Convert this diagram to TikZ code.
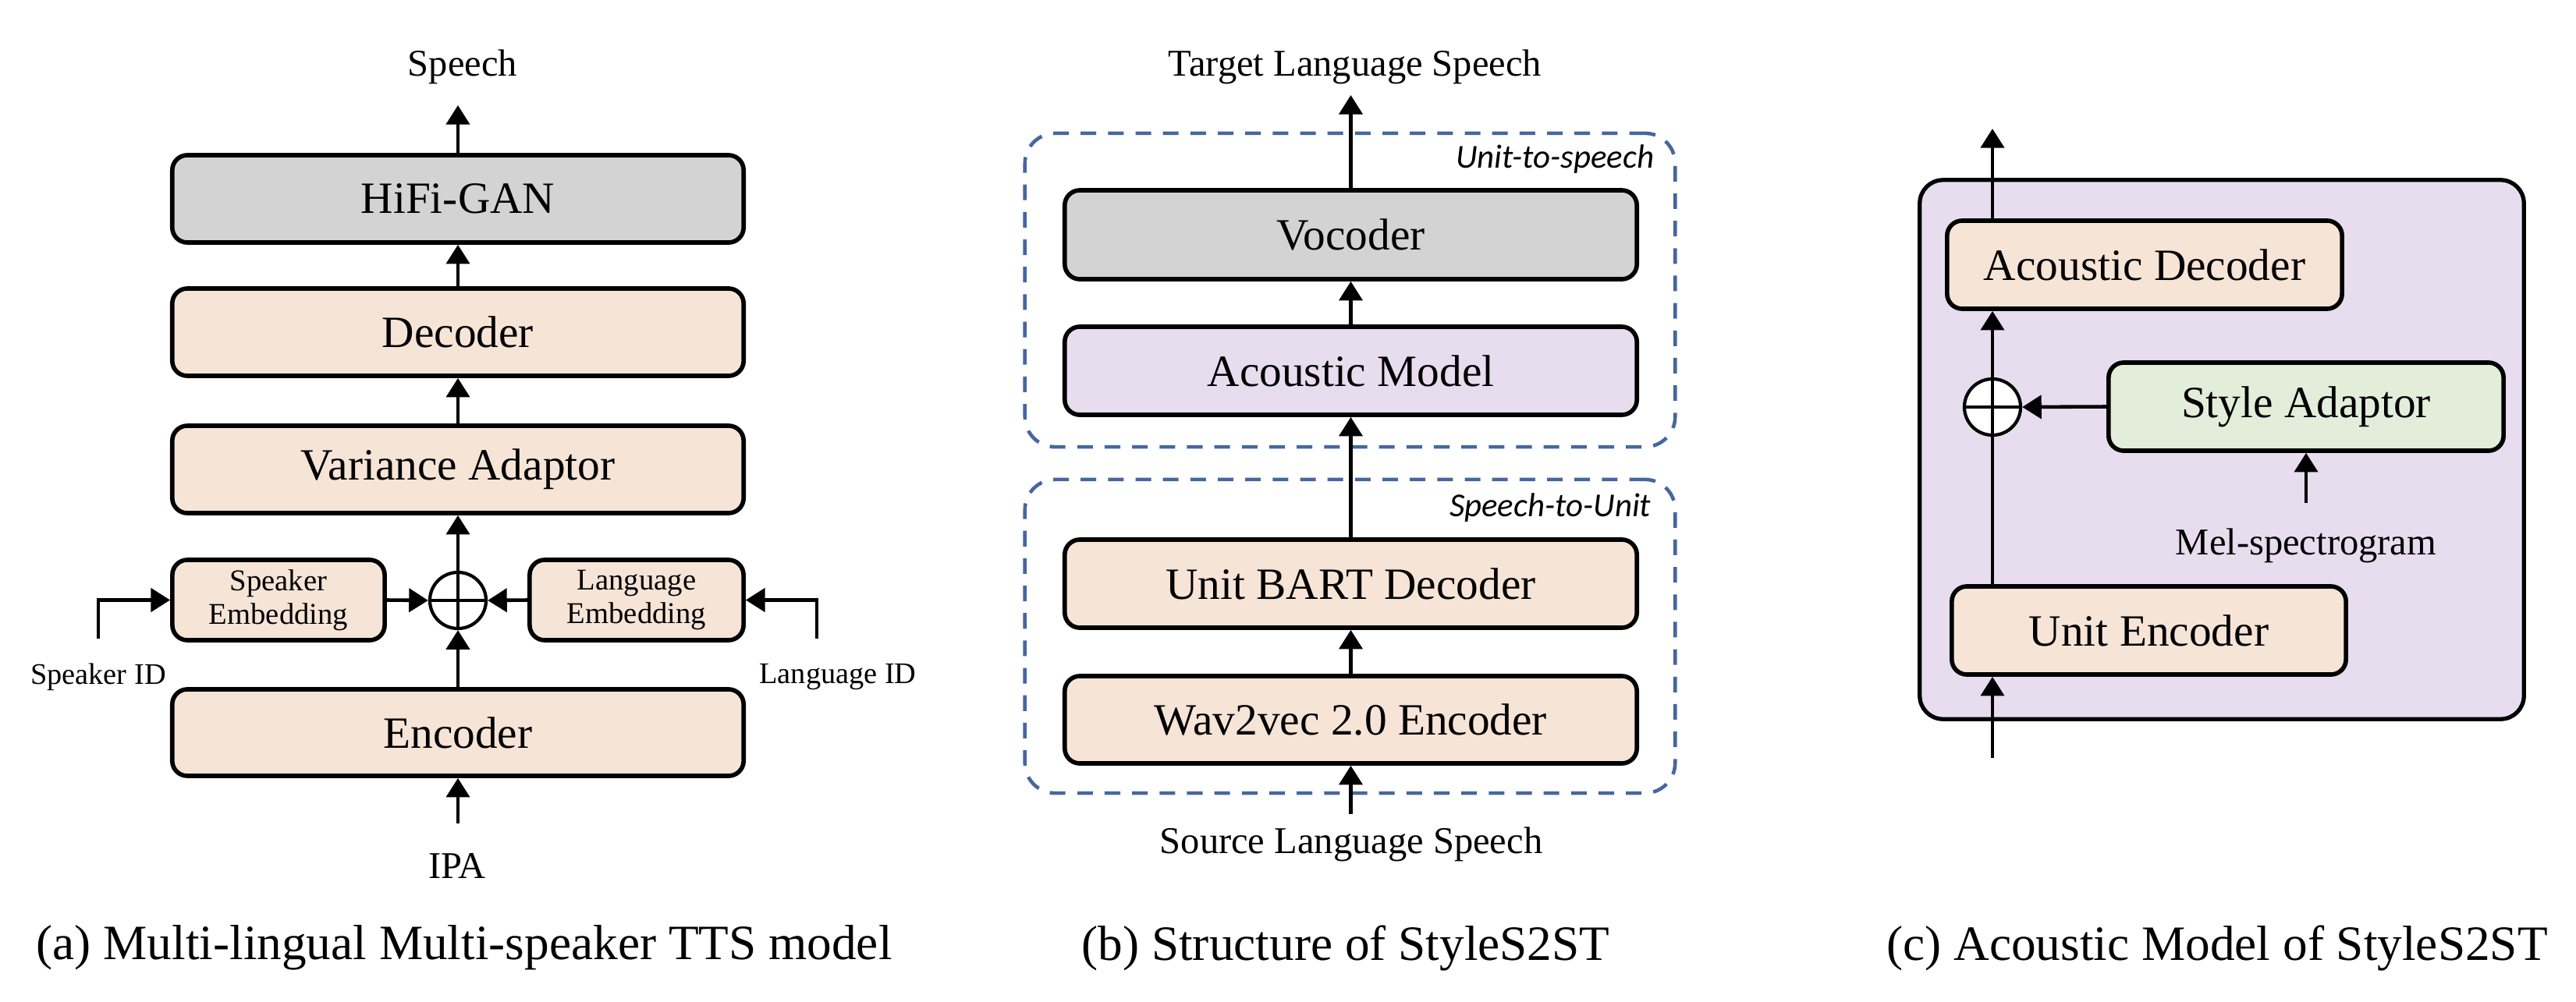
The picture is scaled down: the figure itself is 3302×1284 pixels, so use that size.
\documentclass[tikz,border=0pt]{standalone}
\usepackage{fontspec}
\setmainfont{Liberation Serif}
\newfontfamily\carlfont{Carlito}
\usetikzlibrary{arrows.meta}
\definecolor{peach}{RGB}{246,228,215}
\definecolor{lgray}{RGB}{211,211,211}
\definecolor{lpurple}{RGB}{232,221,238}
\definecolor{lgreen}{RGB}{226,238,218}
\definecolor{dblue}{RGB}{70,102,160}
\begin{document}
\begin{tikzpicture}[x=0.01cm,y=-0.01cm,
 box/.style={draw, line width=1.6pt, rounded corners=5.5pt, inner sep=0pt, font=\fontsize{16.3}{19}\selectfont},
 arr/.style={line width=1.3pt, -{Triangle[width=8.5pt,length=7pt]}},
 io/.style={inner sep=0pt, font=\fontsize{13.8}{16}\selectfont},
 idl/.style={inner sep=0pt, font=\fontsize{10.9}{12}\selectfont},
 captxt/.style={inner sep=0pt, font=\fontsize{18}{21}\selectfont},
 small/.style={font=\fontsize{11}{12.3}\selectfont, align=center},
 osum/.style={circle, draw, line width=1.2pt, fill=white, minimum size=0.72cm, inner sep=0pt,
   path picture={\draw[line width=1.2pt] (path picture bounding box.north) -- (path picture bounding box.south)
     (path picture bounding box.west) -- (path picture bounding box.east);}},
 grp/.style={draw=dblue, line width=1.3pt, dash pattern=on 5.7pt off 4.3pt, rounded corners=11pt, inner sep=0pt},
 tag/.style={inner sep=0pt, font=\carlfont\itshape\fontsize{12.2}{14}\selectfont}
]
\useasboundingbox (0,0) rectangle (3302,1284);

% ---------------- Panel (a) ----------------
\node[box, fill=lgray, minimum width=7.32cm, minimum height=1.12cm] (hifi) at (587,255) {HiFi-GAN};
\node[box, fill=peach, minimum width=7.32cm, minimum height=1.12cm] (dec) at (587,426) {Decoder};
\node[box, fill=peach, minimum width=7.32cm, minimum height=1.12cm] (var) at (587,602) {Variance Adaptor};
\node[box, fill=peach, minimum width=7.32cm, minimum height=1.11cm] (enc) at (587,939.5) {Encoder};
\node[box, fill=peach, small, minimum width=2.72cm, minimum height=1.03cm] (spk) at (357,769.5) {Speaker\\Embedding};
\node[box, fill=peach, small, minimum width=2.74cm, minimum height=1.03cm] (lang) at (816,769.5) {Language\\Embedding};
\node[osum] (sum1) at (587,770) {};

\node[io] (speech) at (593,86) {Speech};
\node[io] (ipa) at (586,1110) {IPA};
\node[idl] (sid) at (126,868) {Speaker ID};
\node[idl] (lid) at (1074,868) {Language ID};
\coordinate (sptip) at (587,135);
\coordinate (ipas) at (587,1056);
\coordinate (sidc) at (126,819);
\coordinate (lidc) at (1047,819);

\draw[arr] (hifi.north) -- (sptip);
\draw[arr] (dec.north) -- (hifi.south);
\draw[arr] (var.north) -- (dec.south);
\draw[arr] (sum1.north) -- (var.south);
\draw[arr] (enc.north) -- (sum1.south);
\draw[arr] (spk.east) -- (sum1.west);
\draw[arr] (lang.west) -- (sum1.east);
\draw[arr] (sidc) |- (spk.west);
\draw[arr] (lidc) |- (lang.east);
\draw[arr] (ipas) -- (enc.south);

\node[captxt] (capa) at (595,1215) {(a) Multi-lingual Multi-speaker TTS model};

% ---------------- Panel (b) ----------------
\node[grp, minimum width=8.33cm, minimum height=4.02cm] (u2s) at (1730.5,372) {};
\node[grp, minimum width=8.33cm, minimum height=4.02cm] (s2u) at (1730.5,816) {};
\node[tag, anchor=east] (u2st) at (2121,204) {Unit-to-speech};
\node[tag, anchor=east] (s2ut) at (2117,651) {Speech-to-Unit};

\node[box, fill=lgray, minimum width=7.33cm, minimum height=1.14cm] (voc) at (1731.5,301) {Vocoder};
\node[box, fill=lpurple, minimum width=7.33cm, minimum height=1.13cm] (am) at (1731.5,475.5) {Acoustic Model};
\node[box, fill=peach, minimum width=7.33cm, minimum height=1.13cm] (bart) at (1731.5,748.5) {Unit BART Decoder};
\node[box, fill=peach, minimum width=7.33cm, minimum height=1.12cm] (w2v) at (1731.5,923) {Wav2vec 2.0 Encoder};

\node[io] (tgt) at (1737,86) {Target Language Speech};
\node[io] (src) at (1732,1083) {Source Language Speech};
\coordinate (tgttip) at (1731.5,122);
\coordinate (srcs) at (1731.5,1044);

\draw[arr] (voc.north) -- (tgttip);
\draw[arr] (am.north) -- (voc.south);
\draw[arr] (bart.north) -- (am.south);
\draw[arr] (w2v.north) -- (bart.south);
\draw[arr] (srcs) -- (w2v.south);

\node[captxt] (capb) at (1725,1216) {(b) Structure of StyleS2ST};

% ---------------- Panel (c) ----------------
\node[draw, line width=1.5pt, fill=lpurple, rounded corners=8.5pt, minimum width=7.74cm, minimum height=6.91cm, inner sep=0pt] (amc) at (2848,576.5) {};
\node[box, fill=peach, minimum width=5.06cm, minimum height=1.13cm] (acdec) at (2749,339.5) {Acoustic Decoder};
\node[box, fill=lgreen, minimum width=5.06cm, minimum height=1.13cm] (style) at (2956,521.5) {Style Adaptor};
\node[box, fill=peach, minimum width=5.05cm, minimum height=1.13cm] (uenc) at (2754.5,808.5) {Unit Encoder};
\node[osum] (sum2) at (2554,522) {};
\node[io] (mel) at (2956,700) {Mel-spectrogram};
\coordinate (outtip) at (2554,165);
\coordinate (inb) at (2554,972);
\coordinate (mels) at (2956,645);

\draw[arr] (acdec.north -| sum2) -- (outtip);
\draw[line width=1.3pt] (uenc.north -| sum2) -- (sum2.south);
\draw[arr] (sum2.north) -- (acdec.south -| sum2);
\draw[arr] (style.west) -- (sum2.east);
\draw[arr] (mels) -- (style.south);
\draw[arr] (inb) -- (uenc.south -| sum2);

\node[captxt] (capc) at (2842,1216) {(c) Acoustic Model of StyleS2ST};
\end{tikzpicture}
\end{document}
